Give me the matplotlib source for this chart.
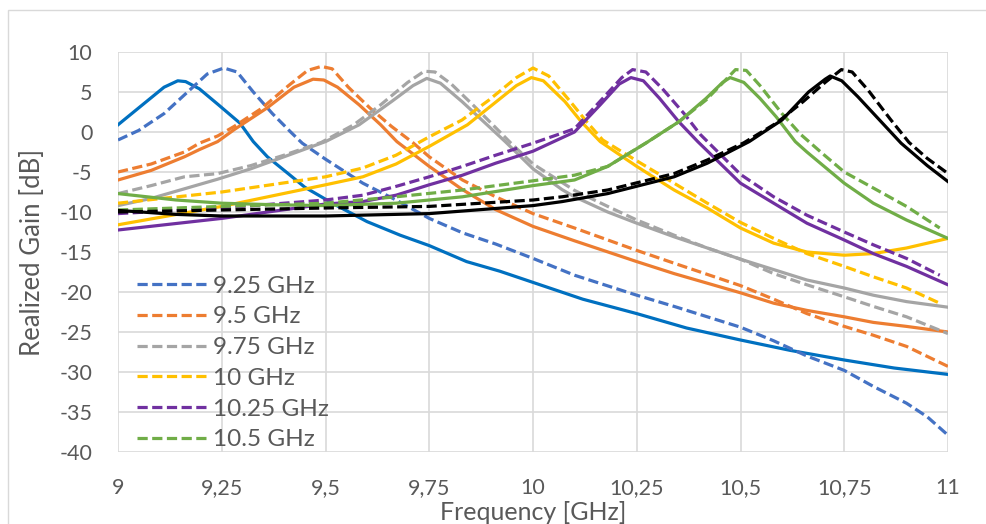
import matplotlib

matplotlib.use("Agg")
import matplotlib.pyplot as plt
from matplotlib.patches import Rectangle

# ============================================================
# Data
# ============================================================
f_925_dash = [9.0, 9.05, 9.111, 9.176, 9.215, 9.255, 9.287, 9.326, 9.372, 9.418, 9.444,
              9.5, 9.59, 9.67, 9.75, 9.83, 9.91, 10.0, 10.1, 10.25, 10.34, 10.5,
              10.58, 10.66, 10.75, 10.82, 10.9, 10.95, 11.0]
g_925_dash = [-1.0, 0.2, 2.3, 5.4, 7.25, 8.0, 7.5, 5.0, 2.3, -0.1, -1.4,
              -3.4, -6.4, -8.5, -10.8, -12.6, -14.0, -15.8, -17.9, -20.4, -21.8, -24.4,
              -26.1, -28.0, -29.8, -31.8, -33.9, -35.6, -37.9]

f_925_sol = [9.0, 9.059, 9.111, 9.144, 9.163, 9.196, 9.242, 9.294, 9.326, 9.36, 9.41,
             9.45, 9.52, 9.6, 9.68, 9.75, 9.84, 9.92, 10.0, 10.12, 10.25, 10.37, 10.5,
             10.62, 10.75, 10.87, 11.0]
g_925_sol = [0.9, 3.4, 5.6, 6.4, 6.3, 5.4, 3.4, 1.1, -1.2, -3.1, -5.2,
             -6.9, -9.0, -11.2, -12.9, -14.2, -16.2, -17.4, -18.8, -20.9, -22.7, -24.5, -26.0,
             -27.3, -28.5, -29.5, -30.3]

f_95_dash = [9.0, 9.08, 9.16, 9.196, 9.24, 9.28, 9.346, 9.411, 9.457, 9.49, 9.516, 9.555,
             9.607, 9.659, 9.711, 9.75, 9.83, 9.91, 10.0, 10.1, 10.25, 10.34, 10.5, 10.58,
             10.66, 10.75, 10.82, 10.9, 11.0]
g_95_dash = [-5.0, -4.0, -2.5, -1.4, -0.5, 0.7, 2.95, 5.8, 7.7, 8.2, 7.9, 5.6,
             3.0, 0.7, -1.35, -3.1, -6.0, -8.1, -10.2, -12.0, -14.8, -16.4, -19.2, -20.9,
             -22.7, -24.3, -25.4, -26.8, -29.3]

f_95_sol = [9.0, 9.08, 9.16, 9.196, 9.24, 9.28, 9.359, 9.424, 9.47, 9.496, 9.529, 9.581,
            9.633, 9.672, 9.75, 9.83, 9.91, 10.0, 10.1, 10.25, 10.34, 10.5, 10.58,
            10.66, 10.75, 10.82, 10.9, 11.0]
g_95_sol = [-6.0, -4.8, -3.1, -2.2, -1.2, 0.3, 3.0, 5.6, 6.6, 6.5, 5.6, 3.4,
            0.9, -1.2, -4.3, -7.2, -9.7, -11.8, -13.6, -16.2, -17.7, -20.1, -21.4,
            -22.3, -23.1, -23.8, -24.3, -25.0]

f_975_dash = [9.0, 9.08, 9.16, 9.24, 9.32, 9.4, 9.49, 9.568, 9.633, 9.698, 9.738, 9.764,
              9.803, 9.855, 9.907, 9.946, 10.0, 10.1, 10.18, 10.25, 10.34, 10.42,
              10.5, 10.58, 10.66, 10.75, 10.82, 10.9, 11.0]
g_975_dash = [-7.7, -6.7, -5.6, -5.2, -4.2, -2.9, -1.3, 0.9, 3.4, 6.2, 7.6, 7.5,
              6.0, 3.4, 0.7, -1.35, -4.0, -7.3, -9.3, -11.0, -12.9, -14.5,
              -15.9, -17.7, -19.1, -20.6, -21.8, -23.1, -25.2]

f_975_sol = [9.0, 9.08, 9.16, 9.24, 9.32, 9.4, 9.5, 9.581, 9.659, 9.711, 9.744, 9.777,
             9.829, 9.881, 9.933, 10.0, 10.07, 10.1, 10.18, 10.25, 10.34, 10.42,
             10.5, 10.58, 10.66, 10.75, 10.82, 10.9, 11.0]
g_975_sol = [-9.2, -8.3, -7.1, -5.9, -4.6, -3.1, -1.2, 0.9, 3.8, 5.8, 6.7, 6.1,
             3.8, 1.3, -1.2, -4.6, -7.2, -8.1, -10.0, -11.4, -13.1, -14.5,
             -15.9, -17.2, -18.5, -19.5, -20.4, -21.2, -21.9]

f_10_dash = [9.0, 9.25, 9.5, 9.59, 9.67, 9.75, 9.829, 9.894, 9.96, 10.0, 10.038, 10.09,
             10.129, 10.168, 10.25, 10.34, 10.42, 10.5, 10.58, 10.66, 10.75, 10.82,
             10.9, 10.98]
g_10_dash = [-8.9, -7.5, -5.6, -4.5, -2.9, -0.6, 1.5, 4.0, 6.8, 8.0, 7.0, 3.8,
             1.3, -1.0, -3.6, -6.4, -8.9, -11.3, -13.3, -15.2, -16.8, -18.1,
             -19.5, -21.4]

f_10_sol = [9.0, 9.25, 9.5, 9.59, 9.67, 9.75, 9.842, 9.907, 9.96, 9.996, 10.025, 10.077,
            10.116, 10.162, 10.25, 10.34, 10.42, 10.5, 10.58, 10.66, 10.75, 10.82,
            10.9, 11.0]
g_10_sol = [-11.6, -9.3, -6.6, -5.6, -4.0, -1.8, 0.9, 3.6, 5.8, 6.8, 6.4, 3.8,
            1.3, -1.2, -4.3, -7.25, -9.5, -12.0, -13.9, -15.0, -15.4, -15.2,
            -14.5, -13.3]

f_1025_dash = [9.0, 9.25, 9.5, 9.59, 9.67, 9.75, 9.83, 9.91, 10.0, 10.1, 10.168, 10.214,
               10.24, 10.272, 10.312, 10.364, 10.403, 10.5, 10.58, 10.66, 10.75, 10.82,
               10.9, 10.98]
g_1025_dash = [-10.2, -9.5, -8.5, -7.9, -6.8, -5.6, -4.3, -2.9, -1.4, 0.4, 4.2, 6.8,
               7.8, 7.5, 5.4, 2.3, -0.3, -5.3, -8.1, -10.4, -12.5, -14.1,
               -15.8, -17.9]

f_1025_sol = [9.0, 9.25, 9.5, 9.59, 9.67, 9.75, 9.83, 9.91, 10.0, 10.1, 10.162, 10.208,
              10.236, 10.266, 10.305, 10.351, 10.397, 10.5, 10.58, 10.66, 10.75, 10.82,
              10.9, 11.0]
g_1025_sol = [-12.25, -10.8, -9.0, -8.7, -7.9, -6.6, -5.4, -3.9, -2.4, 0.0, 3.4, 6.0,
              6.8, 6.4, 4.2, 1.3, -1.2, -6.4, -8.9, -11.4, -13.5, -15.2,
              -16.8, -19.1]

f_105_dash = [9.0, 9.25, 9.5, 9.67, 9.83, 10.0, 10.1, 10.18, 10.273, 10.352, 10.417,
              10.462, 10.488, 10.514, 10.547, 10.6, 10.645, 10.7, 10.75, 10.82, 10.9,
              10.98]
g_105_dash = [-9.75, -9.3, -8.9, -8.1, -7.25, -6.1, -5.4, -4.3, -1.35, 1.3, 4.0,
              6.4, 7.8, 7.7, 5.8, 2.3, -0.3, -2.8, -5.0, -7.0, -9.3,
              -12.0]

f_105_sol = [9.0, 9.14, 9.25, 9.38, 9.5, 9.67, 9.83, 10.0, 10.1, 10.18, 10.273, 10.352,
             10.417, 10.457, 10.475, 10.508, 10.547, 10.586, 10.632, 10.66, 10.75, 10.82,
             10.9, 11.0]
g_105_sol = [-7.7, -8.5, -8.9, -9.1, -9.2, -8.9, -8.1, -6.7, -6.0, -4.3, -1.35, 1.3,
             4.2, 6.2, 6.8, 6.2, 4.2, 1.9, -1.2, -2.5, -6.4, -8.9,
             -11.0, -13.3]

f_1075_dash = [9.0, 9.25, 9.5, 9.75, 10.0, 10.07, 10.18, 10.34, 10.42, 10.508, 10.586,
               10.651, 10.704, 10.743, 10.769, 10.808, 10.861, 10.906, 10.95, 10.995]
g_1075_dash = [-10.0, -9.75, -9.5, -9.3, -8.5, -8.1, -7.25, -5.2, -3.5, -1.35, 1.1,
               3.8, 6.2, 7.8, 7.5, 5.2, 1.6, -1.3, -3.3, -5.0]

f_1075_sol = [9.0, 9.14, 9.25, 9.5, 9.75, 10.0, 10.07, 10.18, 10.34, 10.42, 10.521, 10.6,
              10.664, 10.704, 10.716, 10.744, 10.783, 10.835, 10.887, 10.95, 11.0]
g_1075_sol = [-9.8, -10.3, -10.5, -10.5, -10.2, -9.2, -8.7, -7.7, -5.6, -3.9, -1.2, 1.5,
              5.0, 6.6, 7.0, 6.4, 4.4, 1.5, -1.4, -4.2, -6.2]

x_ticks = [9, 9.25, 9.5, 9.75, 10, 10.25, 10.5, 10.75, 11]
x_tick_labels = ["9", "9,25", "9,5", "9,75", "10", "10,25", "10,5", "10,75", "11"]
y_ticks = [10, 5, 0, -5, -10, -15, -20, -25, -30, -35, -40]

# ============================================================
# Plot
# ============================================================
plt.rcParams["font.family"] = ["Lato", "DejaVu Sans"]
plt.rcParams["axes.unicode_minus"] = False
TEXT = "#595959"
DASH = (3.2, 1.4)
LW = 2.3
W, H = 986, 524

figure = plt.figure(figsize=(W / 100, H / 100), dpi=100)
axis = figure.add_axes([118 / W, 1 - 452 / H, 830 / W, 400 / H])

# light outer chart border (bottom and right edges fall outside the picture)
figure.patches.append(Rectangle((8 / W, -0.1), 1.1, 1 - 10 / H + 0.1,
                                transform=figure.transFigure, fill=False,
                                edgecolor="#D9D9D9", linewidth=1.0))

series = [
    (f_925_sol, g_925_sol, f_925_dash, g_925_dash, "#0070C0", "#4472C4", "9.25 GHz"),
    (f_95_sol, g_95_sol, f_95_dash, g_95_dash, "#ED7D31", "#ED7D31", "9.5 GHz"),
    (f_975_sol, g_975_sol, f_975_dash, g_975_dash, "#A5A5A5", "#A5A5A5", "9.75 GHz"),
    (f_10_sol, g_10_sol, f_10_dash, g_10_dash, "#FFC000", "#FFC000", "10 GHz"),
    (f_1025_sol, g_1025_sol, f_1025_dash, g_1025_dash, "#7030A0", "#7030A0", "10.25 GHz"),
    (f_105_sol, g_105_sol, f_105_dash, g_105_dash, "#70AD47", "#70AD47", "10.5 GHz"),
    (f_1075_sol, g_1075_sol, f_1075_dash, g_1075_dash, "#000000", "#000000", None),
]

handles = []
for fs, gs, fd, gd, c_sol, c_dash, label in series:
    axis.plot(fs, gs, color=c_sol, linewidth=LW, solid_joinstyle="round")
    line, = axis.plot(fd, gd, color=c_dash, linewidth=LW, linestyle=(0, DASH))
    if label:
        line.set_label(label)
        handles.append(line)

axis.set_xlim(9, 11)
axis.set_ylim(-40, 10)
axis.set_xticks(x_ticks)
axis.set_xticklabels(x_tick_labels)
axis.set_yticks(y_ticks)
axis.tick_params(length=0, labelsize=15.5, labelcolor=TEXT)
axis.tick_params(axis="x", pad=18.5)
axis.tick_params(axis="y", pad=18.5)
axis.grid(True, color="#D9D9D9", linewidth=1.2)
axis.set_axisbelow(True)
for spine in axis.spines.values():
    spine.set_visible(False)

figure.text(533 / W, 1 - 512 / H, "Frequency [GHz]", fontsize=18, color=TEXT,
            ha="center", va="center")
figure.text(33 / W, 1 - 252 / H, "Realized Gain [dB]", fontsize=18.5, color=TEXT,
            ha="center", va="center", rotation=90)

axis.legend(handles=handles, loc="lower left", bbox_to_anchor=(19 / 830, 0.004),
            frameon=False, fontsize=17.5, labelcolor=TEXT, handlelength=2.9,
            handletextpad=0.22, labelspacing=0.40, borderaxespad=0.0, borderpad=0.0)

figure.savefig("out.png", dpi=100)
